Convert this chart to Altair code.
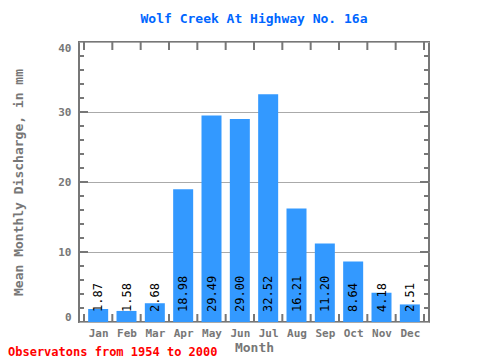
import altair as alt
import pandas as pd

months = ["Jan", "Feb", "Mar", "Apr", "May", "Jun", "Jul", "Aug", "Sep", "Oct", "Nov", "Dec"]
values = [1.87, 1.58, 2.68, 18.98, 29.49, 29.00, 32.52, 16.21, 11.20, 8.64, 4.18, 2.51]
y_labels = [0, 10, 20, 30, 40]
boundaries = list(range(0, 13))
minor_ticks = [v for v in range(2, 40, 2) if v % 10 != 0]
major_ticks = [10, 20, 30]
title_text = "Wolf Creek At Highway No. 16a"
note_text = "Observatons from 1954 to 2000"

FONT = "DejaVu Sans Mono"
GRAY = "#777777"
W, H = 350, 280

df = pd.DataFrame({"month": months, "value": values,
                   "pos": [i + 0.5 for i in range(len(months))]})
bdf = pd.DataFrame({"b": boundaries})
mindf = pd.DataFrame({"t": minor_ticks})
majdf = pd.DataFrame({"t": major_ticks})
notedf = pd.DataFrame({"note": [note_text]})

xscale = alt.Scale(domain=[0, 12], nice=False, zero=False)
yscale = alt.Scale(domain=[0, 40], nice=False)
month_expr = "[" + ",".join("'%s'" % m for m in months) + "][floor(datum.value)]"

XAXIS = alt.Axis(title="Month", values=[i + 0.5 for i in range(len(months))],
                 labelExpr=month_expr, labelAngle=0, ticks=False, domain=False,
                 grid=False,
                 labelFont=FONT, labelFontWeight="bold", labelFontSize=11,
                 labelColor=GRAY, labelPadding=5,
                 titleFont=FONT, titleFontSize=13, titleFontWeight="bold",
                 titleColor=GRAY, titlePadding=3)
YAXIS = alt.Axis(title="Mean Monthly Discharge, in mm", values=y_labels,
                 grid=True, gridColor="#aaaaaa", gridWidth=1,
                 ticks=False, domain=False, labelFlush=True,
                 labelFont=FONT, labelFontWeight="bold", labelFontSize=11,
                 labelColor=GRAY, labelPadding=8,
                 titleFont=FONT, titleFontSize=13, titleFontWeight="bold",
                 titleColor=GRAY, titlePadding=32)

bars = alt.Chart(df).mark_bar(color="#3399FF", size=20).encode(
    x=alt.X("pos:Q", scale=xscale, axis=XAXIS),
    y=alt.Y("value:Q", scale=yscale, axis=YAXIS),
)

labels = alt.Chart(df).mark_text(angle=270, align="left", baseline="middle",
                                 font=FONT, fontSize=12, color="black").encode(
    x=alt.X("pos:Q", scale=xscale, axis=XAXIS),
    y=alt.value(270),
    text=alt.Text("value:Q", format=".2f"),
)

bx = alt.X("b:Q", scale=xscale, axis=XAXIS)
top_ticks = alt.Chart(bdf).mark_rule(color=GRAY, strokeWidth=2).encode(
    x=bx, y=alt.value(0), y2=alt.value(8))
bottom_ticks = alt.Chart(bdf).mark_rule(color=GRAY, strokeWidth=2).encode(
    x=bx, y=alt.value(H - 8), y2=alt.value(H))

ty = alt.Y("t:Q", scale=yscale, axis=YAXIS)
left_minor = alt.Chart(mindf).mark_rule(color=GRAY, strokeWidth=2).encode(
    y=ty, x=alt.value(0), x2=alt.value(5))
left_major = alt.Chart(majdf).mark_rule(color=GRAY, strokeWidth=2).encode(
    y=ty, x=alt.value(0), x2=alt.value(9))
right_minor = alt.Chart(mindf).mark_rule(color=GRAY, strokeWidth=2).encode(
    y=ty, x=alt.value(W - 5), x2=alt.value(W))
right_major = alt.Chart(majdf).mark_rule(color=GRAY, strokeWidth=2).encode(
    y=ty, x=alt.value(W - 9), x2=alt.value(W))

note = alt.Chart(notedf).mark_text(align="left", baseline="middle", font=FONT,
                                   fontSize=12, fontWeight="bold", color="#FF0000").encode(
    text="note:N", x=alt.value(-71), y=alt.value(H + 30))

chart = alt.layer(bars, labels, top_ticks, bottom_ticks, left_minor, left_major,
                  right_minor, right_major, note).properties(
    width=W, height=H,
    title=alt.TitleParams(title_text, font=FONT, fontSize=13, fontWeight="bold",
                          color="#0066FF", anchor="middle", offset=15),
    autosize=alt.AutoSizeParams(type="none"),
    padding={"left": 71, "top": 34, "right": 40, "bottom": 36},
).configure_view(stroke=GRAY, strokeWidth=2)

chart.save("out.html", embed_options={"renderer": "svg", "actions": False})
